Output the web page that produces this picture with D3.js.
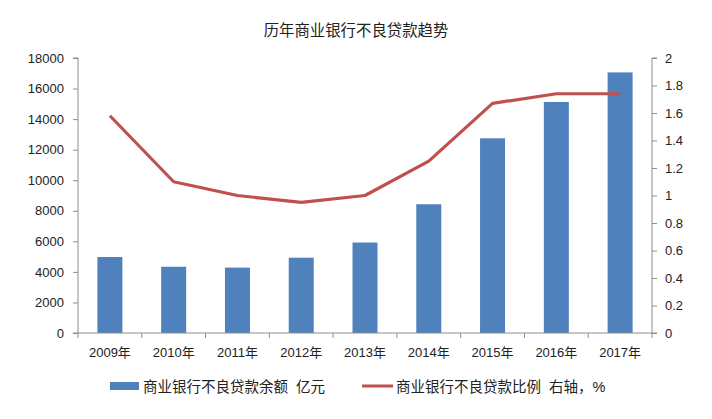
<!DOCTYPE html>
<html><head><meta charset="utf-8">
<script src="https://cdn.jsdelivr.net/npm/d3@7"></script>
<style>
body{margin:0;background:#fff;}
text{font-family:"Liberation Sans","Noto Sans CJK SC",sans-serif;fill:#222;}
</style></head>
<body><svg id="c" width="712" height="419"></svg>
<script>
const categories = ["2009年","2010年","2011年","2012年","2013年","2014年","2015年","2016年","2017年"];
const balance = [4973,4336,4279,4929,5921,8426,12744,15123,17057];
const ratio = [1.58,1.10,1.00,0.95,1.00,1.25,1.67,1.74,1.74];
const leftTicks = [0,2000,4000,6000,8000,10000,12000,14000,16000,18000];
const rightTicks = [0,0.2,0.4,0.6,0.8,1,1.2,1.4,1.6,1.8,2];
const title = "历年商业银行不良贷款趋势";
const seriesNames = ["商业银行不良贷款余额  亿元","商业银行不良贷款比例  右轴，%"];

const svg = d3.select("#c");
const L=78,R=652,T=58,B=333;
const xb = d3.scaleBand().domain(categories).range([L,R]);
const yL = d3.scaleLinear().domain([0,18000]).range([B,T]);
const yR = d3.scaleLinear().domain([0,2]).range([B,T]);
const axisColor="#8c8c8c";

svg.append("text").attr("x",356).attr("y",36).attr("text-anchor","middle").style("font-size","15.4px").style("font-family","'Noto Sans CJK SC',sans-serif").text(title);

// bars
svg.append("g").selectAll("rect").data(balance).join("rect")
 .attr("x",(d,i)=>xb(categories[i])+xb.bandwidth()/2-12.5)
 .attr("width",25)
 .attr("y",d=>yL(d)).attr("height",d=>B-yL(d))
 .attr("fill","#4F81BD");

// axes
const gl = svg.append("g").attr("transform",`translate(${L},0)`)
 .call(d3.axisLeft(yL).tickValues(leftTicks).tickSize(5).tickPadding(9).tickFormat(d3.format("d")));
const gr = svg.append("g").attr("transform",`translate(${R},0)`)
 .call(d3.axisRight(yR).tickValues(rightTicks).tickSize(5).tickPadding(8).tickFormat(d=>String(+d.toFixed(1))));
const gx = svg.append("g").attr("transform",`translate(0,${B})`)
 .call(d3.axisBottom(xb).tickSize(0).tickPadding(15));
svg.append("g").selectAll("line").data(d3.range(categories.length+1)).join("line")
 .attr("x1",i=>L+i*xb.step()).attr("x2",i=>L+i*xb.step())
 .attr("y1",B).attr("y2",B+5).attr("stroke",axisColor);
[gl,gr,gx].forEach(g=>{
 g.selectAll("path").attr("stroke",axisColor);
 g.selectAll("line").attr("stroke",axisColor);
 g.selectAll("text").style("font-size","13px").attr("fill","#222");
});
gl.select(".domain").attr("d",`M-5,${T}H0V${B}H-5`);
gr.select(".domain").attr("d",`M5,${T}H0V${B}H5`);
gx.select(".domain").attr("d",`M${L},0H${R}`);

// line
const line = d3.line().x((d,i)=>xb(categories[i])+xb.bandwidth()/2).y(d=>yR(d));
svg.append("path").datum(ratio).attr("d",line).attr("fill","none")
 .attr("stroke","#C0504D").attr("stroke-width",3.2).attr("stroke-linejoin","round");

// legend
const lg = svg.append("g");
lg.append("rect").attr("x",110).attr("y",382).attr("width",29).attr("height",8).attr("fill","#4F81BD");
lg.append("text").attr("x",143).attr("y",392).style("font-size","14.5px").style("white-space","pre").text(seriesNames[0]);
lg.append("line").attr("x1",362).attr("x2",393).attr("y1",386).attr("y2",386).attr("stroke","#C0504D").attr("stroke-width",3);
lg.append("text").attr("x",396).attr("y",392).style("font-size","14.5px").style("white-space","pre").text(seriesNames[1]);
</script></body></html>
